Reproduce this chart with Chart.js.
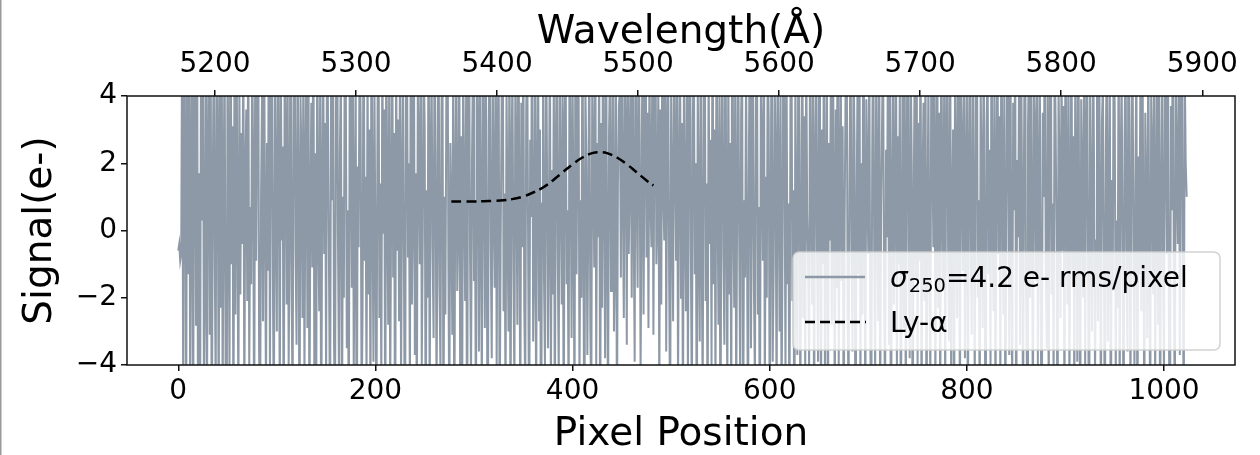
<!DOCTYPE html>
<html>
<head>
<meta charset="utf-8">
<script src="https://cdn.jsdelivr.net/npm/chart.js@4.4.1/dist/chart.umd.min.js"></script>
<style>
html,body{margin:0;padding:0;background:#fff;}
#wrap{position:relative;width:1260px;height:455px;}
</style>
</head>
<body>
<div id="wrap"><canvas id="c" width="1260" height="455"></canvas></div>
<script>
// ---- data ----
const signal = [
-0.6,-0.4,-0.9,-0.7,6.8,-5.5,7.9,2.4,-6.2,5.1,-1.3,8.6,-4.7,0.9,6.3,-7.8,3.4,5.6,-2.8,9.2,-5.9,1.7,-8.4,4.9,0.3,7.0,-4.4,-1.6,5.8,-6.9,2.2,6.5,
-3.1,4.6,-7.3,1.2,5.9,-0.8,-4.9,8.1,2.7,-6.0,4.2,-2.3,7.4,-5.2,0.6,6.0,-3.8,-8.8,5.3,1.5,-4.6,9.9,-1.0,3.1,-6.7,5.0,-2.5,7.6,0.2,-5.3,4.4,-1.9,
2.9,-0.4,6.4,-5.8,1.8,3.6,-2.1,7.2,-4.3,0.7,-1.6,5.5,2.0,-7.0,4.8,-0.9,3.3,8.3,-3.6,-6.1,1.1,4.1,-2.7,6.7,0.4,-5.0,2.6,-1.2,9.1,-4.8,3.9,5.2,
-1.4,-6.4,4.7,0.8,-3.0,7.7,1.9,-5.7,5.4,-0.3,2.5,-8.1,6.2,3.0,-2.2,4.5,-4.1,0.0,8.8,-1.8,-5.4,3.7,6.9,-0.6,-3.4,5.7,1.4,-7.5,4.0,2.1,-2.6,6.1,
-4.5,1.6,5.3,-2.9,7.1,-6.6,0.5,3.8,-1.1,8.0,-4.0,2.3,-5.1,6.6,0.1,-2.4,4.9,-7.7,1.3,5.9,-0.7,3.2,-4.9,7.8,2.8,-1.5,-6.3,4.3,0.9,6.4,-3.3,-5.6,
3.5,9.4,-0.2,-4.2,2.4,5.0,-7.1,1.0,-2.0,6.9,4.1,-3.5,0.6,-6.8,5.7,2.7,-1.7,7.3,-4.4,0.3,4.6,-9.0,1.9,-0.5,6.0,3.4,-5.5,-2.3,8.5,-0.9,1.6,-4.7,
5.2,-1.9,3.0,-5.9,7.5,0.7,-3.9,4.4,-0.4,-6.4,2.2,8.7,-2.6,1.4,-4.8,5.8,-0.1,3.6,-7.4,6.3,1.1,-2.8,4.7,-5.1,0.8,7.0,-1.4,2.9,-8.6,5.5,-0.6,3.3,
-2.7,6.1,-4.6,0.9,4.9,-1.3,-7.9,3.9,5.6,-0.8,2.0,-5.3,9.6,-2.2,0.4,6.8,-3.7,1.7,-6.1,4.2,2.5,-1.0,7.9,-4.1,-0.3,5.1,3.1,-6.9,1.2,-2.0,8.2,-5.7,
1.8,4.8,-0.5,-3.2,6.5,2.3,-5.0,0.2,7.6,-1.6,-4.3,3.5,5.9,-6.5,1.0,-2.5,4.4,8.9,-0.9,-5.8,2.6,0.5,-3.1,6.2,-7.2,1.5,4.5,-1.8,0.0,7.3,-4.9,2.8,
-6.0,5.4,1.3,-2.1,4.0,-8.2,3.7,6.7,-0.7,-4.5,2.1,5.3,-1.5,0.9,-6.6,7.1,2.9,-3.6,4.6,-0.2,-5.2,8.4,1.6,-2.9,5.7,-1.1,-7.6,3.1,6.0,-0.4,-3.8,4.9,
0.6,-1.7,7.0,-4.2,2.5,5.6,-6.3,-0.6,3.4,9.0,-2.4,1.1,-5.4,4.3,0.3,-3.0,6.6,-7.0,2.0,4.7,-1.2,-4.7,5.0,1.9,-2.8,7.7,0.7,-5.9,3.8,-0.5,6.4,-2.3,
-4.8,3.6,5.7,-1.0,-6.7,2.7,0.4,8.1,-3.3,-0.8,4.5,-5.6,1.5,6.3,-2.7,3.0,-8.4,0.8,5.2,-1.4,-4.0,7.2,2.3,-3.5,0.1,6.1,-5.0,1.8,-1.9,4.8,-6.2,2.4,
5.5,-0.9,-4.4,6.8,1.2,-2.2,4.1,-7.3,3.3,5.0,-1.6,0.6,-5.7,7.4,2.2,-3.2,4.6,0.0,-6.0,8.6,-1.3,3.1,5.8,-4.6,0.9,-2.0,6.9,-0.3,-7.7,4.4,2.0,-3.7,
0.7,6.0,-2.9,-5.3,4.7,1.7,-1.1,7.5,-4.2,2.6,-0.2,5.4,-6.8,3.2,-2.3,8.0,1.0,-3.8,6.2,-0.6,-5.5,2.9,4.9,-1.8,0.5,7.1,-3.0,-0.9,5.3,-6.4,1.4,3.7,
4.2,-1.4,6.7,0.9,-2.6,5.1,2.4,-3.4,8.3,-0.7,1.6,4.6,-2.0,6.1,0.2,-3.9,7.0,1.3,-1.7,5.6,3.0,-4.3,0.6,6.6,-2.5,2.1,9.3,-0.8,3.5,-2.9,5.2,1.0,
-0.5,5.9,-3.1,2.7,7.8,-1.0,0.4,4.4,-5.2,3.6,-2.2,6.4,1.1,-0.3,8.5,-3.6,2.3,5.0,-1.5,-6.1,4.0,0.8,-2.7,7.3,2.0,-0.9,4.7,-4.8,1.7,6.0,-2.0,3.2,
-6.3,4.8,0.5,-2.4,6.0,-4.7,1.9,8.8,-0.6,-5.6,3.3,5.7,-1.3,2.0,-7.1,4.5,0.1,-3.3,6.9,-0.8,-5.0,3.9,7.6,-2.1,1.4,-6.5,5.3,-0.4,2.7,-4.1,8.1,-1.6,
3.0,-5.1,6.5,1.5,-2.8,4.3,-8.0,2.2,5.9,-0.7,-3.4,7.2,0.3,-4.9,5.1,-1.9,2.6,-6.0,9.5,0.6,-2.3,4.6,-5.5,1.0,6.7,-0.1,-4.3,3.5,5.5,-7.4,0.9,-1.4,
4.9,-0.2,-6.9,2.8,7.0,-3.5,1.3,5.2,-1.8,-4.6,3.8,6.3,-2.5,0.7,-7.6,4.1,2.4,-0.9,8.7,-5.3,1.6,-2.0,5.6,3.2,-6.2,0.2,7.4,-3.9,-1.2,4.6,2.1,-5.9,
6.2,1.8,-3.0,4.0,-5.4,-0.5,7.7,2.5,-4.4,5.5,-1.6,0.8,-6.6,3.7,6.6,-2.1,1.2,-8.3,4.8,0.0,-3.7,6.0,2.9,-5.1,-0.8,8.0,-2.6,3.4,-4.5,5.8,0.5,-1.1,
-4.2,7.3,0.6,-2.2,5.0,-6.5,2.2,4.7,-0.6,-3.9,8.2,1.4,-5.8,3.0,-1.0,6.4,-4.6,0.9,5.4,-7.2,2.6,-0.3,4.5,-2.8,6.8,1.1,-5.3,3.6,-1.7,9.0,-4.0,0.4,
5.6,-1.5,3.1,-6.8,0.3,4.4,7.0,-2.4,-5.0,1.7,6.1,-0.5,-3.6,5.3,2.7,-7.8,0.1,4.2,-1.3,6.9,-4.8,2.0,-2.5,8.6,0.8,-5.7,3.9,1.5,-0.7,5.9,-3.2,-6.0,
2.3,6.7,-0.8,-4.3,4.9,1.0,-2.7,7.5,-6.1,0.5,3.3,5.7,-1.9,-5.2,2.4,-0.2,6.3,-3.4,4.1,-8.5,1.3,5.0,-2.2,0.6,7.8,-4.4,2.8,-1.0,4.4,-6.7,0.0,6.0,
-2.9,4.3,-5.5,1.9,8.4,-0.4,-3.8,5.2,2.1,-6.9,0.7,4.8,-1.4,6.6,-4.1,3.2,-0.9,7.2,-5.9,1.4,3.8,-2.1,5.9,-7.0,0.2,4.5,-1.6,-4.6,6.5,2.5,-0.5,9.4,
-4.9,0.8,5.5,-2.3,3.5,-6.3,7.1,1.2,-1.7,4.6,-5.1,2.9,6.2,-0.8,-3.3,8.0,-4.5,0.4,3.0,-7.5,5.1,1.6,-2.6,6.8,-0.1,-5.4,4.0,2.2,-1.2,7.6,-3.8,0.9,
4.7,-6.6,2.0,5.8,-1.0,-3.1,6.9,0.5,-4.7,3.6,8.8,-2.0,0.9,-5.9,4.2,1.8,-2.9,6.5,-0.6,-7.9,3.1,5.3,-1.3,2.4,-4.2,7.0,0.3,-2.4,5.0,-5.6,1.6,6.3,
-0.7,3.4,-5.0,7.4,1.5,-2.5,4.5,-6.4,0.2,5.9,2.6,-3.7,8.3,-1.1,-4.8,3.8,0.6,6.1,-7.1,2.1,-0.2,4.9,-3.4,5.7,1.2,-6.0,2.5,7.9,-1.8,-4.3,3.0,5.4,
-2.0,6.8,0.3,-5.7,4.1,2.8,-1.5,7.7,-4.0,0.6,5.0,-2.9,-6.8,3.5,1.0,6.4,-0.9,-3.5,4.8,-5.3,2.3,8.9,-1.9,0.8,-4.6,5.6,3.3,-0.4,-7.3,4.3,1.9,-2.6,
5.2,-0.6,3.7,-6.2,6.7,1.3,-2.2,4.9,-4.9,0.1,7.3,-1.2,2.8,-5.4,5.5,0.9,-3.9,8.1,-0.5,-6.7,3.9,1.6,-2.0,6.0,-4.3,2.6,5.8,-1.4,-7.7,4.0,0.7,-3.0,
6.5,2.0,-4.5,-0.3,5.3,-2.7,7.9,0.4,-5.8,3.2,4.4,-1.0,-6.5,2.4,6.2,-3.3,0.8,5.0,-8.0,1.5,-1.8,7.1,3.6,-4.4,0.3,-2.3,6.6,-5.2,1.9,4.7,-0.8,-6.3,
2.7,5.7,-1.6,-3.6,8.5,0.5,-5.0,3.0,6.3,-0.9,-4.1,1.7,5.4,-7.0,2.2,-1.3,4.6,-2.4,7.0,0.0,-5.9,3.5,1.0,-3.2,6.1,-0.6,-6.1,4.2,2.3,-1.9,5.5,-4.7,
0.4,6.6,-2.8,4.1,-6.8,1.1,5.0,-1.2,-4.4,7.5,2.5,-0.7,5.8,-3.1,-7.4,3.7,0.6,8.2,-2.1,-5.3,4.3,1.8,-0.4,6.4,-3.7,2.9,7.1,-1.0,-5.8,4.9,2.0,1.0
];
const lyaPixel  = [277, 290, 300, 310, 320, 330, 340, 350, 360, 370, 380, 390, 400, 410, 420, 427, 435, 445, 455, 465, 475, 482];
const lyaSignal = [0.86,0.86,0.86,0.87,0.88,0.90,0.94,1.01,1.13,1.28,1.49,1.73,1.97,2.17,2.30,2.33,2.30,2.17,1.97,1.73,1.49,1.34];
const pixelTicks = [0, 200, 400, 600, 800, 1000];
const wavelengthTicks = [5200, 5300, 5400, 5500, 5600, 5700, 5800, 5900];
const signalTicks = [-4, -2, 0, 2, 4];
const noiseLabel = ['σ', '250', '=4.2 e- rms/pixel'];
const lyaLabel = 'Ly-α';

// ---- styling ----
const FONT = '"DejaVu Sans", "Liberation Sans", sans-serif';
const NOISE_COLOR = '#8D99A6';

const noisePoints = signal.map((v, i) => ({x: i, y: v}));
const lyaPoints = lyaPixel.map((p, i) => ({x: p, y: lyaSignal[i]}));

const minus = v => (v < 0 ? '\u2212' + Math.abs(v) : String(v));

const framePlugin = {
  id: 'frameAndLegend',
  afterDraw(chart) {
    const ctx = chart.ctx;
    const a = chart.chartArea;
    ctx.save();
    // figure left edge
    ctx.fillStyle = '#9a9a9a';
    ctx.fillRect(0, 0, 1.5, 455);
    // axes frame
    ctx.strokeStyle = '#111';
    ctx.lineWidth = 1.5;
    ctx.strokeRect(a.left, a.top, a.right - a.left, a.bottom - a.top);

    // legend box
    const bx = 793, by = 252, bw = 427, bh = 98, r = 6;
    ctx.beginPath();
    ctx.moveTo(bx + r, by);
    ctx.arcTo(bx + bw, by, bx + bw, by + bh, r);
    ctx.arcTo(bx + bw, by + bh, bx, by + bh, r);
    ctx.arcTo(bx, by + bh, bx, by, r);
    ctx.arcTo(bx, by, bx + bw, by, r);
    ctx.closePath();
    ctx.fillStyle = 'rgba(255,255,255,0.8)';
    ctx.fill();
    ctx.strokeStyle = 'rgba(205,205,205,0.9)';
    ctx.lineWidth = 1.5;
    ctx.stroke();

    // entry 1
    ctx.strokeStyle = NOISE_COLOR;
    ctx.lineWidth = 2.5;
    ctx.setLineDash([]);
    ctx.beginPath(); ctx.moveTo(805, 277); ctx.lineTo(865, 277); ctx.stroke();
    ctx.fillStyle = '#000';
    ctx.textBaseline = 'alphabetic';
    ctx.textAlign = 'left';
    let x = 890;
    ctx.font = 'italic 28px ' + FONT;
    ctx.fillText(noiseLabel[0], x, 287);
    x += ctx.measureText(noiseLabel[0]).width + 1;
    ctx.font = '19.5px ' + FONT;
    ctx.fillText(noiseLabel[1], x, 292);
    x += ctx.measureText(noiseLabel[1]).width;
    ctx.font = '28px ' + FONT;
    ctx.fillText(noiseLabel[2], x, 287);

    // entry 2
    ctx.strokeStyle = '#000';
    ctx.lineWidth = 2.5;
    ctx.setLineDash([10, 5]);
    ctx.beginPath(); ctx.moveTo(805, 322); ctx.lineTo(866, 322); ctx.stroke();
    ctx.setLineDash([]);
    ctx.font = '28px ' + FONT;
    ctx.fillText(lyaLabel, 890, 332);
    ctx.restore();
  }
};

const tickGrid = {drawOnChartArea: false, drawTicks: true, tickLength: 6, color: '#111', tickWidth: 1.5, lineWidth: 1.5};

new Chart(document.getElementById('c'), {
  type: 'line',
  data: {
    datasets: [
      {label: lyaLabel, data: lyaPoints, borderColor: '#000', borderWidth: 2.5, borderDash: [10, 5],
       pointRadius: 0, tension: 0.4, fill: false, clip: 0, xAxisID: 'x', yAxisID: 'y'},
      {label: noiseLabel.join(''), data: noisePoints, borderColor: NOISE_COLOR, borderWidth: 2,
       pointRadius: 0, tension: 0, fill: false, clip: 0, xAxisID: 'x', yAxisID: 'y',
       borderJoinStyle: 'miter'}
    ]
  },
  options: {
    responsive: false,
    animation: false,
    events: [],
    layout: {padding: {left: 0, right: 25, top: 0, bottom: 0}},
    plugins: {legend: {display: false}, tooltip: {enabled: false}, title: {display: false}},
    scales: {
      x: {
        type: 'linear', position: 'bottom', min: -52, max: 1072,
        afterBuildTicks: s => { s.ticks = pixelTicks.map(v => ({value: v})); },
        afterFit: s => { s.height = 90; },
        grid: tickGrid,
        border: {display: false},
        ticks: {font: {family: FONT, size: 28}, color: '#000', padding: 4, maxRotation: 0, autoSkip: false, callback: v => String(v)},
        title: {display: true, text: 'Pixel Position', color: '#000', font: {family: FONT, size: 39, lineHeight: 1.05}, padding: {top: 0, bottom: 0}}
      },
      x2: {
        type: 'linear', position: 'top', min: 5137.6, max: 5923.2,
        afterBuildTicks: s => { s.ticks = wavelengthTicks.map(v => ({value: v})); },
        afterFit: s => { s.height = 96; },
        grid: tickGrid,
        border: {display: false},
        ticks: {font: {family: FONT, size: 28}, color: '#000', padding: 8, maxRotation: 0, autoSkip: false, callback: v => String(v)},
        title: {display: true, text: 'Wavelength(Å)', color: '#000', font: {family: FONT, size: 39, lineHeight: 1.2}, padding: {top: 9, bottom: 0}}
      },
      y: {
        type: 'linear', position: 'left', min: -4, max: 4,
        afterBuildTicks: s => { s.ticks = signalTicks.map(v => ({value: v})); },
        afterFit: s => { s.width = 127; },
        grid: tickGrid,
        border: {display: false},
        ticks: {font: {family: FONT, size: 28}, color: '#000', padding: 4, callback: v => minus(v)},
        title: {display: true, text: 'Signal(e-)', color: '#000', font: {family: FONT, size: 39, lineHeight: 1.2}, padding: {top: 17, bottom: 0}}
      }
    }
  },
  plugins: [framePlugin]
});
</script>
</body>
</html>
